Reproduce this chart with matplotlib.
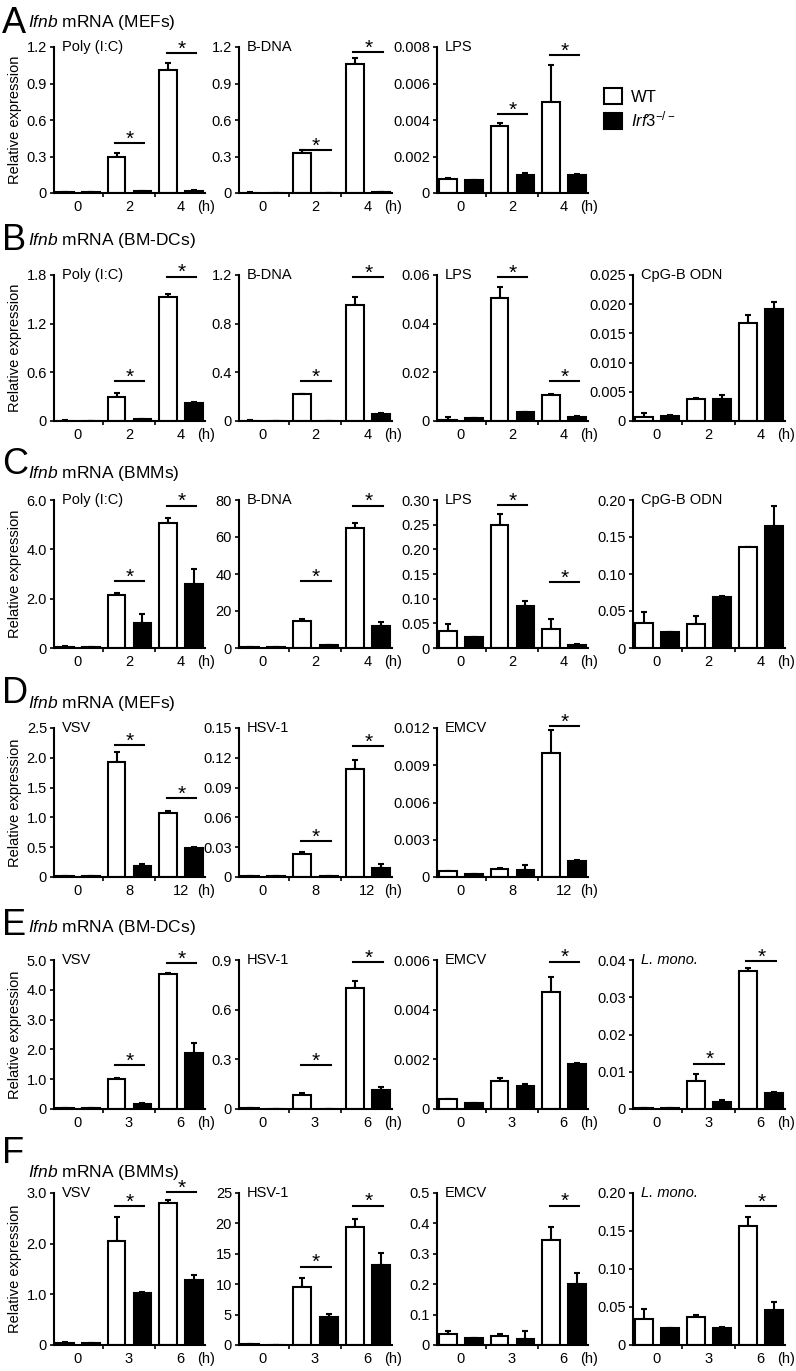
import numpy as np
import matplotlib.pyplot as plt
from matplotlib.patches import Patch

plt.rcParams['font.family'] = 'Liberation Sans'
plt.rcParams['mathtext.fontset'] = 'custom'
plt.rcParams['mathtext.rm'] = 'Liberation Sans'
plt.rcParams['mathtext.it'] = 'Liberation Sans:italic'

# ---- data (mean, error) per row, one inner list per panel ----
row_letters = ['A', 'B', 'C', 'D', 'E', 'F']
row_cells = ['MEFs', 'BM-DCs', 'BMMs', 'MEFs', 'BM-DCs', 'BMMs']

A_titles = ['Poly (I:C)', 'B-DNA', 'LPS']
A_times = ['0', '2', '4']
A_wt = [[0.005, 0.30, 1.01], [0.004, 0.33, 1.06], [0.00075, 0.00367, 0.0050]]
A_wt_err = [[0.002, 0.03, 0.06], [0.001, 0.02, 0.05], [0.00008, 0.00018, 0.0020]]
A_ko = [[0.005, 0.015, 0.02], [0.004, 0.004, 0.008], [0.00069, 0.00099, 0.00101]]
A_ko_err = [[0, 0.003, 0.005], [0, 0, 0.002], [0.00002, 0.00011, 0.00005]]
A_yticks = [['0', '0.3', '0.6', '0.9', '1.2'], ['0', '0.3', '0.6', '0.9', '1.2'],
            ['0', '0.002', '0.004', '0.006', '0.008']]
A_sig = [[(1, 0.41), (2, 1.15)], [(1, 0.355), (2, 1.16)], [(1, 0.00432), (2, 0.00757)]]

B_titles = ['Poly (I:C)', 'B-DNA', 'LPS', 'CpG-B ODN']
B_times = ['0', '2', '4']
B_wt = [[0.005, 0.30, 1.53], [0.004, 0.22, 0.95], [0.0005, 0.0505, 0.0105], [0.0006, 0.0037, 0.0168]]
B_wt_err = [[0.002, 0.05, 0.04], [0.001, 0.005, 0.07], [0.0011, 0.0045, 0.0008], [0.0007, 0.0002, 0.0013]]
B_ko = [[0.005, 0.02, 0.22], [0.004, 0.004, 0.06], [0.0011, 0.0036, 0.0018], [0.0009, 0.0037, 0.0192]]
B_ko_err = [[0, 0.003, 0.02], [0, 0, 0.008], [0, 0.0002, 0.0001], [0.0001, 0.0007, 0.0011]]
B_yticks = [['0', '0.6', '1.2', '1.8'], ['0', '0.4', '0.8', '1.2'], ['0', '0.02', '0.04', '0.06'],
            ['0', '0.005', '0.010', '0.015', '0.020', '0.025']]
B_sig = [[(1, 0.49), (2, 1.78)], [(1, 0.33), (2, 1.18)], [(1, 0.059), (2, 0.0164)], []]

C_titles = ['Poly (I:C)', 'B-DNA', 'LPS', 'CpG-B ODN']
C_times = ['0', '2', '4']
C_wt = [[0.05, 2.15, 5.05], [0.3, 14.7, 65.1], [0.034, 0.249, 0.038], [0.034, 0.032, 0.136]]
C_wt_err = [[0.03, 0.1, 0.23], [0, 0.8, 2.7], [0.014, 0.022, 0.021], [0.014, 0.011, 0.001]]
C_ko = [[0.03, 1.01, 2.6], [0.3, 1.5, 11.9], [0.022, 0.086, 0.0055], [0.021, 0.069, 0.165]]
C_ko_err = [[0, 0.38, 0.59], [0, 0.2, 2.1], [0, 0.010, 0.002], [0.001, 0.0015, 0.027]]
C_yticks = [['0', '2.0', '4.0', '6.0'], ['0', '20', '40', '60', '80'],
            ['0', '0.05', '0.10', '0.15', '0.20', '0.25', '0.30'],
            ['0', '0.05', '0.10', '0.15', '0.20']]
C_sig = [[(1, 2.7), (2, 5.77)], [(1, 36.3), (2, 77)], [(1, 0.29), (2, 0.133)], []]

D_titles = ['VSV', 'HSV-1', 'EMCV']
D_times = ['0', '8', '12']
D_wt = [[0.01, 1.93, 1.07], [0.001, 0.0236, 0.109], [0.00046, 0.00062, 0.0100]]
D_wt_err = [[0, 0.16, 0.04], [0, 0.0017, 0.009], [0.00002, 0.00008, 0.0018]]
D_ko = [[0.01, 0.19, 0.48], [0.001, 0.001, 0.009], [0.00027, 0.00054, 0.00126]]
D_ko_err = [[0, 0.02, 0.015], [0, 0, 0.004], [0.00001, 0.0004, 0.00011]]
D_yticks = [['0', '0.5', '1.0', '1.5', '2.0', '2.5'], ['0', '0.03', '0.06', '0.09', '0.12', '0.15'],
            ['0', '0.003', '0.006', '0.009', '0.012']]
D_sig = [[(1, 2.21), (2, 1.32)], [(1, 0.036), (2, 0.132)], [(2, 0.01213)]]

E_titles = ['VSV', 'HSV-1', 'EMCV', 'L. mono.']
E_times = ['0', '3', '6']
E_wt = [[0.03, 1.0, 4.52], [0.004, 0.086, 0.73], [0.0004, 0.00113, 0.0047], [0.0003, 0.0076, 0.0371]]
E_wt_err = [[0, 0.03, 0.04], [0, 0.008, 0.045], [0.00002, 0.00011, 0.0006], [0, 0.0017, 0.0007]]
E_ko = [[0.02, 0.18, 1.87], [0.002, 0.002, 0.115], [0.00024, 0.00093, 0.0018], [0.0002, 0.002, 0.0042]]
E_ko_err = [[0, 0.02, 0.33], [0, 0, 0.02], [0, 0.00008, 0.00004], [0, 0.0005, 0.0003]]
E_yticks = [['0', '1.0', '2.0', '3.0', '4.0', '5.0'], ['0', '0.3', '0.6', '0.9'],
            ['0', '0.002', '0.004', '0.006'], ['0', '0.01', '0.02', '0.03', '0.04']]
E_sig = [[(1, 1.48), (2, 4.9)], [(1, 0.267), (2, 0.886)], [(2, 0.00593)], [(1, 0.0122), (2, 0.0396)]]

F_titles = ['VSV', 'HSV-1', 'EMCV', 'L. mono.']
F_times = ['0', '3', '6']
F_wt = [[0.04, 2.06, 2.80], [0.1, 9.6, 19.4], [0.035, 0.028, 0.344], [0.034, 0.037, 0.156]]
F_wt_err = [[0.01, 0.47, 0.06], [0, 1.5, 1.4], [0.012, 0.008, 0.043], [0.014, 0.003, 0.012]]
F_ko = [[0.03, 1.02, 1.28], [0.05, 4.6, 13.2], [0.024, 0.019, 0.201], [0.022, 0.022, 0.046]]
F_ko_err = [[0, 0.02, 0.1], [0, 0.45, 2.0], [0, 0.028, 0.035], [0.001, 0.002, 0.01]]
F_yticks = [['0', '1.0', '2.0', '3.0'], ['0', '5', '10', '15', '20', '25'],
            ['0', '0.1', '0.2', '0.3', '0.4', '0.5'], ['0', '0.05', '0.10', '0.15', '0.20']]
F_sig = [[(1, 2.74), (2, 3.02)], [(1, 12.9), (2, 22.9)], [(2, 0.458)], [(2, 0.183)]]

rows = [
    (A_titles, A_times, A_wt, A_wt_err, A_ko, A_ko_err, A_yticks, A_sig),
    (B_titles, B_times, B_wt, B_wt_err, B_ko, B_ko_err, B_yticks, B_sig),
    (C_titles, C_times, C_wt, C_wt_err, C_ko, C_ko_err, C_yticks, C_sig),
    (D_titles, D_times, D_wt, D_wt_err, D_ko, D_ko_err, D_yticks, D_sig),
    (E_titles, E_times, E_wt, E_wt_err, E_ko, E_ko_err, E_yticks, E_sig),
    (F_titles, F_times, F_wt, F_wt_err, F_ko, F_ko_err, F_yticks, F_sig),
]

# ---- layout in pixels ----
W, H = 796, 1371
col_x = [(54, 205), (239, 392), (437, 588), (633, 785)]
row_y = [(47, 193), (275, 421), (500, 648), (728, 877), (960, 1109), (1193, 1345)]
head_y = [(33, 27), (250, 245), (474, 478), (703, 708), (935, 932), (1163, 1177)]

fig = plt.figure(figsize=(W / 100, H / 100), dpi=100)
LW = 1.5
TICKPAD = 5


def draw_panel(ax, title, times, wt, wt_err, ko, ko_err, yticks, sig, first):
    x = np.arange(3)
    ax.errorbar(x - 0.24, wt, yerr=[np.zeros(3), wt_err], fmt='none', ecolor='black',
                elinewidth=LW, capsize=2.5, capthick=LW, zorder=1)
    ax.errorbar(x + 0.26, ko, yerr=[np.zeros(3), ko_err], fmt='none', ecolor='black',
                elinewidth=LW, capsize=2.5, capthick=LW, zorder=1)
    ax.bar(x - 0.24, wt, 0.34, color='white', edgecolor='black', linewidth=LW, zorder=2)
    ax.bar(x + 0.26, ko, 0.34, color='black', edgecolor='black', linewidth=LW, zorder=2)

    yv = [float(t) for t in yticks]
    ax.set_ylim(0, yv[-1])
    ax.set_xlim(-0.45, 2.47)
    ax.set_yticks(yv, yticks)
    ax.set_xticks(x, times)
    ax.set_xticks([0.5, 1.5], minor=True)
    ax.tick_params(axis='y', length=3, width=1.2, pad=2, labelsize=10.5)
    ax.tick_params(axis='x', which='major', length=0, pad=TICKPAD, labelsize=10.5)
    ax.tick_params(axis='x', which='minor', length=3, width=1.2)
    for s in ['top', 'right']:
        ax.spines[s].set_visible(False)
    for s in ['left', 'bottom']:
        ax.spines[s].set_linewidth(LW)
    ax.annotate('(h)', xy=(1.0, 0), xycoords='axes fraction', xytext=(1, -TICKPAD),
                textcoords='offset points', ha='center', va='top', fontsize=10.5)
    style = 'italic' if title == 'L. mono.' else 'normal'
    ax.text(0.05, 1.0, title, transform=ax.transAxes, ha='left', va='center',
            fontsize=10.5, fontstyle=style)
    for g, y in sig:
        ax.plot([g - 0.27, g + 0.3], [y, y], color='black', lw=LW, clip_on=False)
        ax.annotate('*', xy=(g + 0.02, y), xytext=(0, -4), textcoords='offset points',
                    ha='center', va='bottom', fontsize=15, annotation_clip=False)
    if first:
        ax.set_ylabel('Relative expression', fontsize=10.5)
        ax.yaxis.set_label_coords(-0.215, 0.5)


for r, (titles, times, wt, wt_err, ko, ko_err, yticks, sig) in enumerate(rows):
    top, bot = row_y[r]
    for c in range(len(titles)):
        x0, x1 = col_x[c]
        ax = fig.add_axes([x0 / W, 1 - bot / H, (x1 - x0) / W, (bot - top) / H])
        draw_panel(ax, titles[c], times, wt[c], wt_err[c], ko[c], ko_err[c],
                   yticks[c], sig[c], c == 0)
    ly, hy = head_y[r]
    fig.text(2 / W, 1 - ly / H, row_letters[r], fontsize=26, va='baseline', ha='left')
    fig.text(28 / W, 1 - hy / H, r'$\mathit{Ifnb}$ mRNA (' + row_cells[r] + ')',
             fontsize=12.5, va='baseline', ha='left')

handles = [Patch(facecolor='white', edgecolor='black', linewidth=LW, label='WT'),
           Patch(facecolor='black', edgecolor='black', linewidth=LW, label=r'$\mathit{Irf3}^{-/-}$')]
fig.legend(handles=handles, loc='upper left', bbox_to_anchor=(604 / W, 1 - 88 / H),
           frameon=False, fontsize=12, handlelength=1.1, handleheight=1.1,
           labelspacing=0.3, handletextpad=0.5, borderaxespad=0, borderpad=0)

fig.savefig('out.png', dpi=100)
